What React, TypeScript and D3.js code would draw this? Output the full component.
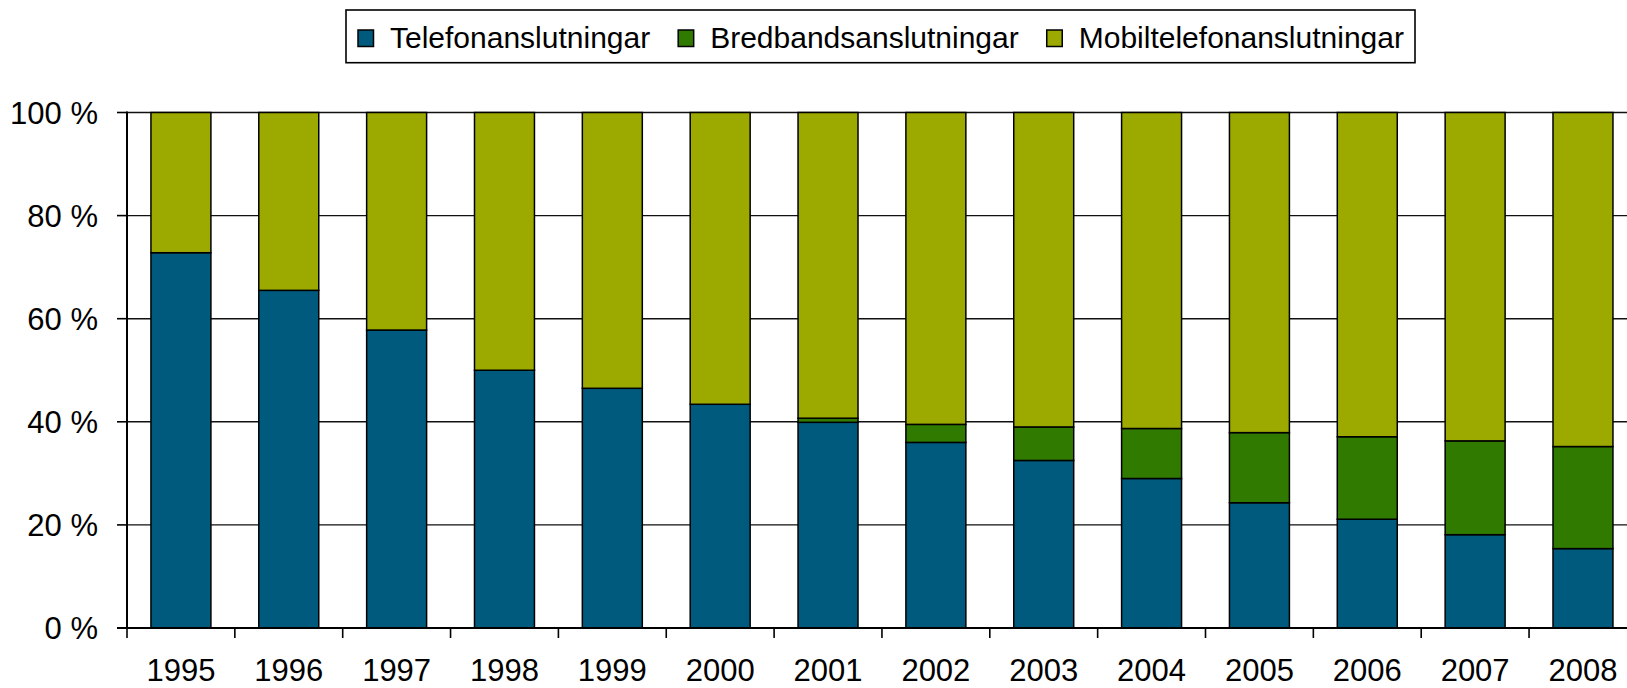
import React from "react";
import * as d3 from "d3";

const years = ["1995","1996","1997","1998","1999","2000","2001","2002","2003","2004","2005","2006","2007","2008"];
const telefon = [72.8, 65.5, 57.8, 50.0, 46.5, 43.4, 39.9, 36.0, 32.5, 29.0, 24.3, 21.1, 18.1, 15.4];
const bredband = [0, 0, 0, 0, 0, 0, 0.8, 3.5, 6.5, 9.7, 13.6, 16.0, 18.2, 19.8];
const mobil = years.map((_, i) => 100 - telefon[i] - bredband[i]);
const seriesNames = ["Telefonanslutningar", "Bredbandsanslutningar", "Mobiltelefonanslutningar"];
const seriesColors = ["#005a7e", "#317a00", "#9caa00"];
const yTicks = [0, 20, 40, 60, 80, 100];

const W = 1627, H = 688;
const FONT = "'Liberation Sans', Arial, sans-serif";
const FS = 31;
const LFS = 30;

function measure(text: string): number {
  if (typeof document === "undefined") return text.length * LFS * 0.5;
  const c = document.createElement("canvas");
  const ctx = c.getContext("2d")!;
  ctx.font = `${LFS}px 'Liberation Sans', Arial, sans-serif`;
  return ctx.measureText(text).width;
}

export default function App() {
  const left = 127;
  const step = 107.85;
  const x = d3.scaleBand<string>()
    .domain(years)
    .range([left, left + step * years.length])
    .paddingInner(0.444)
    .paddingOuter(0.222);
  const y = d3.scaleLinear().domain([0, 100]).range([628, 112.5]);

  const rows = years.map((yr, i) => ({ year: yr, t: telefon[i], b: bredband[i], m: mobil[i] }));
  const stack = d3.stack<any>().keys(["t", "b", "m"])(rows);

  const legTop = 10, legBottom = 62.7;
  const legLeft = 346, legRight = 1415;
  let cursor = 358;
  const legItems = seriesNames.map((name, i) => {
    const sx = cursor;
    const tx = sx + 16 + 16;
    cursor = tx + measure(name) + 28;
    return { name, color: seriesColors[i], sx, tx };
  });

  const xEnd = left + step * years.length;

  return (
    <svg width={W} height={H} style={{ position: "absolute", left: 0, top: 0, background: "#fff" }} fontFamily={FONT}>
      <rect x={0} y={0} width={W} height={H} fill="#fff" />
      {yTicks.filter(t => t > 0).map(t => (
        <line key={t} x1={left} x2={xEnd} y1={y(t)} y2={y(t)} stroke="#111" strokeWidth={1.4} />
      ))}
      {stack.map((s, si) => (
        <g key={si}>
          {s.map((d, i) => {
            const h = y(d[0]) - y(d[1]);
            if (h <= 0) return null;
            return (
              <rect key={i} x={x(years[i])!} width={x.bandwidth()} y={y(d[1])} height={h}
                fill={seriesColors[si]} stroke="#000" strokeWidth={1.5} />
            );
          })}
        </g>
      ))}
      <line x1={left} x2={left} y1={y(100) - 1} y2={y(0)} stroke="#000" strokeWidth={2} />
      {yTicks.map(t => (
        <g key={t}>
          <line x1={left - 10} x2={left} y1={y(t)} y2={y(t)} stroke="#000" strokeWidth={1.6} />
          <text x={98} y={y(t)} dy="0.36em" textAnchor="end" fontSize={FS} fill="#000">{`${t} %`}</text>
        </g>
      ))}
      <line x1={left - 10} x2={xEnd} y1={y(0)} y2={y(0)} stroke="#000" strokeWidth={2} />
      {years.map((yr, i) => (
        <line key={"t" + i} x1={left + step * i} x2={left + step * i} y1={y(0)} y2={y(0) + 10} stroke="#000" strokeWidth={1.6} />
      ))}
      {years.map(yr => (
        <text key={yr} x={x(yr)! + x.bandwidth() / 2} y={681} textAnchor="middle" fontSize={FS} fill="#000">{yr}</text>
      ))}
      <rect x={legLeft} y={legTop} width={legRight - legLeft} height={legBottom - legTop} fill="#fff" stroke="#000" strokeWidth={1.6} />
      {legItems.map(it => (
        <g key={it.name}>
          <rect x={it.sx} y={30} width={15.5} height={16.5} fill={it.color} stroke="#000" strokeWidth={1.5} />
          <text x={it.tx} y={48} fontSize={LFS} fill="#000">{it.name}</text>
        </g>
      ))}
    </svg>
  );
}
